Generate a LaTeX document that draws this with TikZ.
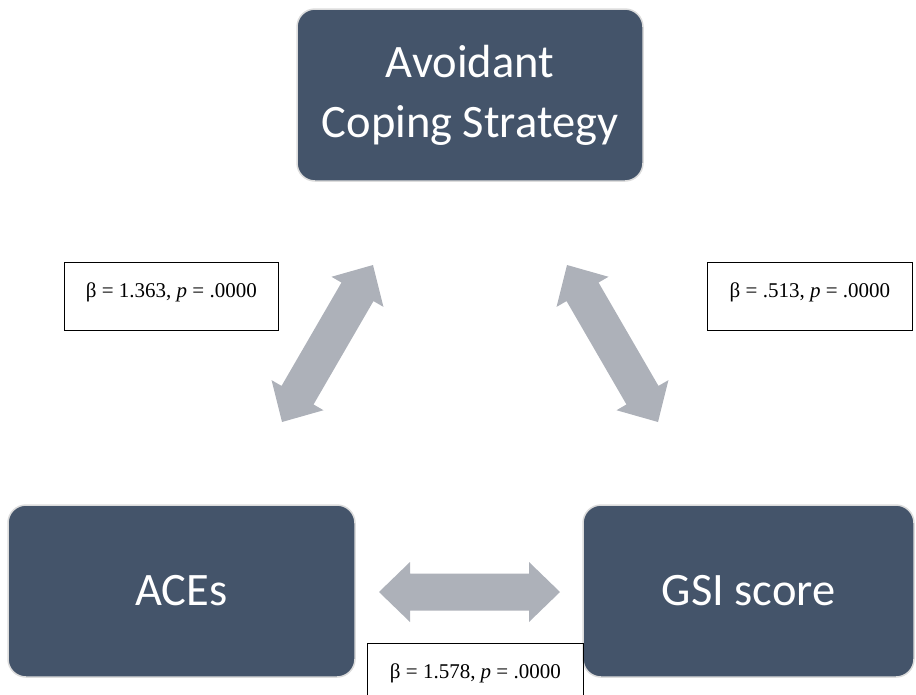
\documentclass[tikz,border=0pt]{standalone}
\usepackage{fontspec}
\newfontfamily\boxfont{Carlito}
\newfontfamily\labelfont{Liberation Serif}
\definecolor{boxblue}{HTML}{44546A}
\definecolor{boxedge}{HTML}{DCDCDC}
\definecolor{arrowgray}{HTML}{ADB1B9}
\usetikzlibrary{calc}
\tikzset{
	darkbox/.style={draw=boxedge, line width=1.5pt, fill=boxblue, rounded corners=18pt,
		minimum height=172pt, text=white, align=center,
		font=\boxfont\fontsize{46.5}{60}\selectfont}
}
\tikzset{
	valuebox/.style={draw, line width=0.8pt, anchor=north west, inner xsep=6pt, inner ysep=20pt,
		text height=15pt, text depth=13pt, font=\labelfont\fontsize{21}{24}\selectfont}
}
% wide two-headed block arrow between two points
\newcommand{\blockarrow}[2]{%
  \fill[arrowgray] (#1)
    -- ($(#1)!31pt!(#2)!30pt!90:(#2)$)
    -- ($(#1)!31pt!(#2)!18.5pt!90:(#2)$)
    -- ($(#2)!31pt!(#1)!18.5pt!-90:(#1)$)
    -- ($(#2)!31pt!(#1)!30pt!-90:(#1)$)
    -- (#2)
    -- ($(#2)!31pt!(#1)!30pt!90:(#1)$)
    -- ($(#2)!31pt!(#1)!18.5pt!90:(#1)$)
    -- ($(#1)!31pt!(#2)!18.5pt!-90:(#2)$)
    -- ($(#1)!31pt!(#2)!30pt!-90:(#2)$)
    -- cycle;}

\begin{document}
\begin{tikzpicture}[x=1pt, y=-1pt]
      \useasboundingbox (0,0) rectangle (916,694);
      \node[darkbox, minimum width=346pt] (cope) at (470,95) {Avoidant\\Coping Strategy};
      \node[darkbox, minimum width=347pt] (aces) at (181.5,591) {ACEs};
      \node[darkbox, minimum width=331pt] (gsi) at (748.5,591) {GSI score};
      % arrow ends
      \coordinate (la) at (282,422);
      \coordinate (lb) at (373,265);
      \coordinate (ra) at (567,265);
      \coordinate (rb) at (658,422);
      \coordinate (ba) at (379,592);
      \coordinate (bb) at (560,592);
      \blockarrow{la}{lb}
      \blockarrow{ra}{rb}
      \blockarrow{ba}{bb}
      % coefficients
      \node[valuebox, minimum width=214pt] (lval) at (64,262) {β = 1.363, \textit{p} = .0000};
      \node[valuebox, minimum width=205pt] (rval) at (707,262) {β = .513, \textit{p} = .0000};
      \node[valuebox, minimum width=216pt] (bval) at (367,643) {β = 1.578, \textit{p} = .0000};
    \end{tikzpicture}
\end{document}
